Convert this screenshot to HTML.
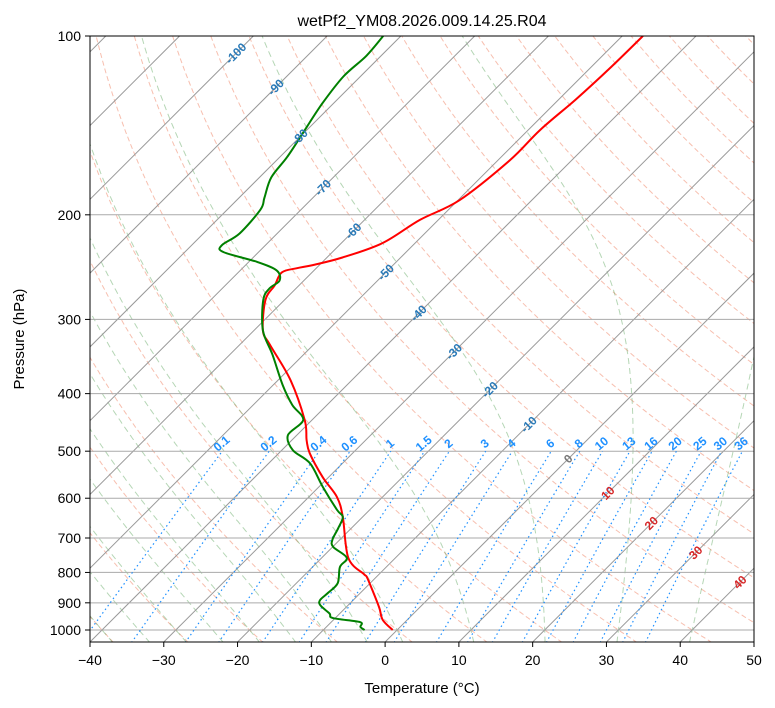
<!DOCTYPE html>
<html><head><meta charset="utf-8">
<style>
html,body{margin:0;padding:0;background:#fff;}
svg{display:block;font-family:"Liberation Sans","DejaVu Sans",sans-serif;}
</style></head>
<body>
<svg id="chart" width="775" height="708" xmlns="http://www.w3.org/2000/svg">
<rect x="0" y="0" width="775" height="708" fill="#fff"/>
<text x="422" y="26" font-size="16" text-anchor="middle">wetPf2_YM08.2026.009.14.25.R04</text>
<defs><clipPath id="clip"><rect x="90" y="36" width="664" height="606"/></clipPath></defs>
<g id="bg" clip-path="url(#clip)"></g>
<g id="fg" clip-path="url(#clip)"></g>
<g id="labels"></g>
<rect x="90" y="36" width="664" height="606" fill="none" stroke="#000" stroke-width="1"/>
<g id="axes"></g>
<text x="422" y="693" font-size="15" text-anchor="middle">Temperature (°C)</text>
<text x="24" y="339" font-size="15" text-anchor="middle" transform="rotate(-90 24 339)">Pressure (hPa)</text>
</svg>
<script>
// data
const tempPressure = [1000,962,918,856,814,805,756,645,597,553,504,479,443,379,331,313,278,263,250,246,243,236,223,204,189,162,144,128,113,100];
const tempValues = [-0.6,-3.3,-5.4,-8.8,-11.3,-12.1,-16.4,-22.7,-26.2,-30.8,-35.8,-38.0,-41.0,-48.4,-55.9,-58.8,-62.6,-63.3,-64.1,-62.6,-60.9,-57.9,-54.4,-52.5,-49.8,-48.4,-48.4,-47.7,-47.3,-47.2];
const dewPressure = [1000,988,970,955,938,908,890,866,834,783,756,725,705,673,645,628,575,524,498,470,443,418,387,344,313,278,266,258,248,240,231,225,215,196,187,173,160,146,130,117,108,100];
const dewValues = [-4.4,-5.4,-6.1,-10.3,-11.4,-13.8,-14.5,-14.4,-14.4,-16.3,-16.6,-19.9,-21.0,-21.8,-22.7,-24.4,-29.4,-34.4,-38.5,-41.2,-41.2,-44.7,-48.7,-54.2,-58.8,-62.9,-63.6,-63.3,-65.1,-68.9,-74.8,-75.9,-75.1,-75.5,-76.6,-78.4,-79.0,-80.1,-81.5,-82.3,-82.0,-82.4];
const pressureTicks = [100,200,300,400,500,600,700,800,900,1000];
const tempTicks = [-40,-30,-20,-10,0,10,20,30,40,50];
const mixingRatios = [0.1,0.2,0.4,0.6,1,1.5,2,3,4,6,8,10,13,16,20,25,30,36];
const isothermLabels = [-100,-90,-80,-70,-60,-50,-40,-30,-20,-10,0,10,20,30,40];
const isothermLabelPressure = [107,122,148,180,213,250,293,340,394,451,515,588,661,741,831];
const moistStarts = [-40,-35,-30,-25,-20,-15,-10,-5,0,10,20,30,40,50];

const NS="http://www.w3.org/2000/svg";
const PXC=664/90;
function xT(t){return 90+(t+40)*PXC;}
function yP(p){return 36+594*Math.log10(p/100);}
function X(t,p){return xT(t)+(642-yP(p));}
function mk(tag,attrs,parent){const e=document.createElementNS(NS,tag);for(const k in attrs)e.setAttribute(k,attrs[k]);parent.appendChild(e);return e;}
const bg=document.getElementById('bg'),fg=document.getElementById('fg'),lab=document.getElementById('labels'),ax=document.getElementById('axes');
function pathFrom(pts){return pts.map((q,i)=>(i?'L':'M')+q[0].toFixed(1)+' '+q[1].toFixed(1)).join(' ');}
function smoothPath(pts){
  let d='M'+pts[0][0].toFixed(1)+' '+pts[0][1].toFixed(1);
  for(let i=0;i<pts.length-1;i++){
    const p0=pts[Math.max(0,i-1)],p1=pts[i],p2=pts[i+1],p3=pts[Math.min(pts.length-1,i+2)];
    const c1=[p1[0]+(p2[0]-p0[0])/6,p1[1]+(p2[1]-p0[1])/6];
    const c2=[p2[0]-(p3[0]-p1[0])/6,p2[1]-(p3[1]-p1[1])/6];
    d+=` C${c1[0].toFixed(1)} ${c1[1].toFixed(1)} ${c2[0].toFixed(1)} ${c2[1].toFixed(1)} ${p2[0].toFixed(1)} ${p2[1].toFixed(1)}`;
  }
  return d;
}
const pgrid=[];for(let p=1050;p>=100;p-=5)pgrid.push(p);

// dry adiabats
for(let th=-50;th<=250;th+=10){
  const pts=pgrid.map(p=>{const t=(th+273.15)*Math.pow(p/1000,0.2857)-273.15;return [X(t,p),yP(p)];});
  const e=mk('path',{d:pathFrom(pts),fill:'none',stroke:'#f08060','stroke-opacity':'0.5','stroke-width':'1','stroke-dasharray':'5,3'},bg);
  
  
}
// moist adiabats
function es(t){return 6.112*Math.exp(17.67*t/(t+243.5));}
function moistRate(T,p){const tc=T-273.15;const e=es(tc);const rs=0.622*e/(p-e);const Rd=287.04,Lv=2.501e6,Cp=1005.7;
  return (1/p)*(Rd*T+Lv*rs)/(Cp+Lv*Lv*rs*0.622/(Rd*T*T));}
moistStarts.forEach(t0=>{
  let T=t0+273.15,p=1000;
  const down=[];while(p<1050){T+=moistRate(T,p)*2;p+=2;down.push([X(T-273.15,p),yP(p)]);}
  T=t0+273.15;p=1000;const up=[[X(t0,1000),yP(1000)]];
  while(p>100){T-=moistRate(T,p)*2;p-=2;up.push([X(T-273.15,p),yP(p)]);}
  const pts=down.reverse().concat(up);
  const e=mk('path',{d:pathFrom(pts),fill:'none',stroke:'#5aa55a','stroke-opacity':'0.45','stroke-width':'1','stroke-dasharray':'6,4'},bg);
  
  
});
// isotherms
for(let t=-150;t<=50;t+=10){
  const e=mk('line',{x1:X(t,1050),y1:yP(1050),x2:X(t,100),y2:yP(100),stroke:'#999','stroke-width':'1'},bg);
  
  
}
// pressure grid
pressureTicks.forEach(p=>{
  const e=mk('line',{x1:90,y1:yP(p),x2:754,y2:yP(p),stroke:'#aaa','stroke-width':'1'},bg);
  
  
});
// mixing ratio lines
function tdFromW(w,p){const wk=w/1000;const e=wk*p/(0.622+wk);const l=Math.log(e/6.112);return 243.5*l/(17.67-l);}
mixingRatios.forEach(w=>{
  const pts=[];for(let p=1050;p>=500;p-=10)pts.push([X(tdFromW(w,p),p),yP(p)]);
  const e=mk('path',{d:pathFrom(pts),fill:'none',stroke:'#1e90ff','stroke-width':'1.2','stroke-dasharray':'1.5,3'},bg);
  
  
  const lx=X(tdFromW(w,495),495),ly=yP(495)-2;
  const t=mk('text',{x:lx,y:ly,'font-size':'12','font-weight':'bold',fill:'#1e90ff','text-anchor':'middle',transform:`rotate(-40 ${lx} ${ly})`},lab);
  t.textContent=String(w);
  
  
});
// isotherm labels
isothermLabels.forEach((t,i)=>{
  const p=isothermLabelPressure[i];const lx=X(t,p),ly=yP(p)+4;
  const col=t<0?'#2a7ab8':(t===0?'#777':'#d62728');
  const e=mk('text',{x:lx,y:ly,'font-size':'12','font-weight':'bold',fill:col,'text-anchor':'middle',transform:`rotate(-45 ${lx} ${ly-4})`},lab);
  e.textContent=String(t);
  
  
});
// profiles
const tp=tempPressure.map((p,i)=>[X(tempValues[i],p),yP(p)]);
const tl=mk('path',{d:smoothPath(tp),fill:'none',stroke:'#f00','stroke-width':'2','stroke-linejoin':'round'},fg);


const dp=dewPressure.map((p,i)=>[X(dewValues[i],p),yP(p)]);
const dl=mk('path',{d:smoothPath(dp),fill:'none',stroke:'#008000','stroke-width':'2','stroke-linejoin':'round'},fg);


// axes ticks
pressureTicks.forEach(p=>{
  const y=yP(p);
  const tk=mk('line',{x1:85,y1:y,x2:90,y2:y,stroke:'#000'},ax);
  
  
  const t=mk('text',{x:81,y:y+5,'font-size':'14','text-anchor':'end'},ax);
  t.textContent=String(p);
  
  
});
tempTicks.forEach(v=>{
  const x=xT(v);
  const tk=mk('line',{x1:x,y1:642,x2:x,y2:647,stroke:'#000'},ax);
  
  
  const t=mk('text',{x:x,y:665,'font-size':'14','text-anchor':'middle'},ax);
  t.textContent=(v<0?'\u2212'+(-v):String(v));
  
  
});
</script>
</body></html>
